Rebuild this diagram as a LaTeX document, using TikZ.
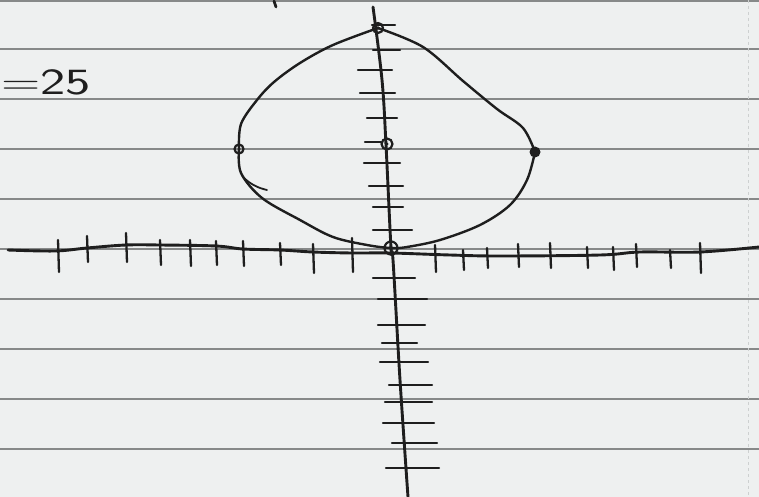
\documentclass[tikz,border=0pt]{standalone}
\definecolor{paper}{RGB}{238,240,240}
\definecolor{inkc}{RGB}{30,30,30}
\definecolor{rulec}{RGB}{135,137,137}
\definecolor{marginc}{RGB}{205,208,208}
\begin{document}
\begin{tikzpicture}[x=1pt,y=-1pt,
  ink/.style={draw=inkc,line width=2.4pt,line cap=round,line join=round},
  axisline/.style={ink,line width=2.9pt},
  tickmark/.style={ink,line width=2.3pt},
  rule/.style={draw=rulec,line width=1.1pt},
  ptopen/.style={circle,draw=inkc,line width=2.2pt,inner sep=0pt,minimum size=#1},
  ptfill/.style={circle,fill=inkc,inner sep=0pt,minimum size=#1}]
\useasboundingbox (0,0) rectangle (759,497);
\fill[paper] (0,0) rectangle (759,497);
% ruled paper
\draw[rule] (0,1) -- (759,1);
\foreach \yy in {49,99,...,449} \draw[rule] (0,\yy) -- (759,\yy);
\draw[draw=marginc,line width=0.9pt,dashed] (748,0) -- (748,497);
% stray mark at top
\draw[ink,line width=2.8pt] (274,1) -- (276,7);
% text
\node[anchor=base west,inner sep=0pt,font=\sffamily\fontsize{37}{40}\selectfont,text=inkc] (eq) at (1,95) {\scalebox{1.45}[1]{=25}};
% axes
\coordinate (xl) at (8,250);
\coordinate (xr) at (759,247);
\coordinate (yt) at (373,7);
\coordinate (yb) at (408,497);
\draw[axisline] plot[smooth,tension=0.6] coordinates {(xl) (55,251) (87,248) (126,245) (160,245) (216,246) (243,249) (280,250) (313,252) (352,253) (391,253) (450,255) (500,256) (600,255) (640,252) (700,252) (xr)};
\draw[axisline] plot[smooth,tension=0.6] coordinates {(yt) (382,80) (386,145) (391,248) (393,260) (400,380) (yb)};
% x ticks
\foreach \xx/\ya/\yb in {58/240/272,87/236/262,126/233/262,160/240/265,190/240/266,216/241/265,243/241/266,280/243/265,313/244/273,352/238/272,435/245/272,463/250/270,487/248/268,518/244/267,550/243/268,587/247/268,613/247/270,636/244/267,670/250/268,700/243/273}
  \draw[tickmark] (\xx,\ya) -- (\xx+1,\yb);
% y ticks
\foreach \yy/\xa/\xb in {25/372/395,50/373/400,70/358/392,93/360/395,118/367/397,142/365/381,163/364/400,186/369/403,207/373/403,230/373/412,278/373/415,299/378/427,325/378/425,343/382/417,362/380/428,385/389/432,402/385/432,423/383/434,443/392/437,468/386/439}
  \draw[tickmark] (\xa,\yy) -- (\xb,\yy);
% points
\node[ptopen=10pt] (top) at (378,28) {};
\node[ptopen=9pt] (left) at (239,149) {};
\node[ptopen=11pt] (center) at (387,144) {};
\node[ptfill=11pt] (right) at (535,152) {};
\node[ptopen=13pt] (origin) at (391,248) {};
\fill[inkc] (top) circle (1.8pt) (left) circle (1.5pt) (center) circle (1.6pt) (origin) circle (2pt);
% curve
\draw[ink] plot[smooth,tension=0.55] coordinates {(top.center) (423,47) (463,81) (497,109) (523,128) (right.center)};
\draw[ink] plot[smooth,tension=0.55] coordinates {(right.center) (527,180) (510,205) (480,225) (440,240) (407,247) (origin.center) (367,245) (333,237) (300,220) (262,198) (241,173) (left.center)};
\draw[ink] plot[smooth,tension=0.55] coordinates {(left.center) (241,124) (257,100) (274,82) (300,63) (333,45) (top.center)};
\draw[ink,line width=1.8pt] (243,177) .. controls (250,184) and (258,188) .. (267,190);
\end{tikzpicture}
\end{document}
